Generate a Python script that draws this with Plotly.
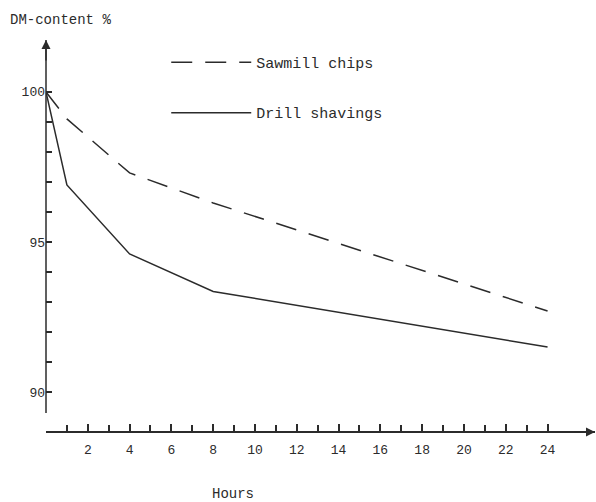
import plotly.graph_objects as go

# Dry-matter content over time for two wood residues
hours = [0, 1, 4, 8, 24]
sawmill_chips = [100, 99.1, 97.3, 96.3, 92.7]
drill_shavings = [100, 96.9, 94.6, 93.35, 91.5]

x_major = [0, 2, 4, 6, 8, 10, 12, 14, 16, 18, 20, 22, 24]
x_major_text = [""] + [str(v) for v in x_major[1:]]
x_minor = [1, 3, 5, 7, 9, 11, 13, 15, 17, 19, 21, 23]
y_major = [90, 95, 100]
y_minor = [91, 92, 93, 94, 96, 97, 98, 99]

INK = "#2b2b2b"
FONT = "Liberation Mono"
Y_DOMAIN = [0.0485, 1]

fig = go.Figure()
fig.add_trace(go.Scatter(
    x=hours, y=sawmill_chips, mode="lines", name="Sawmill chips",
    legendgroup="chips",
    line=dict(color=INK, width=1.5, dash="21px,13px"),
))
fig.add_trace(go.Scatter(
    x=hours, y=drill_shavings, mode="lines", name="Drill shavings",
    legendgroup="shavings",
    line=dict(color=INK, width=1.5),
))

fig.update_layout(
    width=596, height=502,
    margin=dict(l=46, r=1, t=40, b=70),
    paper_bgcolor="white", plot_bgcolor="white",
    font=dict(family=FONT, color=INK, size=13),
    showlegend=True,
    legend=dict(
        x=0.219, y=0.985, xanchor="left", yanchor="top",
        font=dict(family=FONT, size=15, color=INK),
        itemwidth=80, tracegroupgap=28, bgcolor="rgba(0,0,0,0)",
    ),
    xaxis=dict(
        range=[0, 26.27], anchor="free", position=0,
        showline=True, linecolor=INK, linewidth=1.5,
        showgrid=False, zeroline=False,
        tickmode="array", tickvals=x_major, ticktext=x_major_text,
        ticks="inside", ticklen=7, tickwidth=1.5, tickcolor=INK,
        ticklabelstandoff=6,
        tickfont=dict(family=FONT, size=13, color=INK),
        minor=dict(tickmode="array", tickvals=x_minor, ticks="inside",
                   ticklen=6, tickwidth=1.5, tickcolor=INK, showgrid=False),
    ),
    yaxis=dict(
        range=[89.3, 101.73], domain=Y_DOMAIN,
        showline=False,
        showgrid=False, zeroline=False,
        tickmode="array", tickvals=y_major,
        ticks="inside", ticklen=6, tickwidth=1.5, tickcolor=INK,
        tickfont=dict(family=FONT, size=13, color=INK),
        minor=dict(tickmode="array", tickvals=y_minor, ticks="inside",
                   ticklen=6, tickwidth=1.5, tickcolor=INK, showgrid=False),
    ),
)

# Vertical axis line, stopping short of the time axis
fig.add_shape(type="line", xref="paper", yref="paper",
              x0=0, x1=0, y0=Y_DOMAIN[0], y1=Y_DOMAIN[1],
              line=dict(color=INK, width=1.5))

# Arrow heads on the axes and the axis captions
fig.add_annotation(xref="paper", yref="paper", x=0, y=1, ax=0, ay=22,
                   text="", showarrow=True, arrowhead=2, arrowsize=1.2,
                   arrowwidth=1.5, arrowcolor=INK)
fig.add_annotation(xref="paper", yref="paper", x=1, y=0, ax=-22, ay=0,
                   text="", showarrow=True, arrowhead=2, arrowsize=1.2,
                   arrowwidth=1.5, arrowcolor=INK)
fig.add_annotation(xref="paper", yref="paper", x=-0.0692, y=1.051,
                   xanchor="left", yanchor="middle", showarrow=False,
                   text="DM-content %", font=dict(family=FONT, size=14, color=INK))
fig.add_annotation(xref="paper", yref="paper", x=0.3406, y=-0.158,
                   xanchor="center", yanchor="middle", showarrow=False,
                   text="Hours", font=dict(family=FONT, size=14, color=INK))

fig.write_html("out.html")
